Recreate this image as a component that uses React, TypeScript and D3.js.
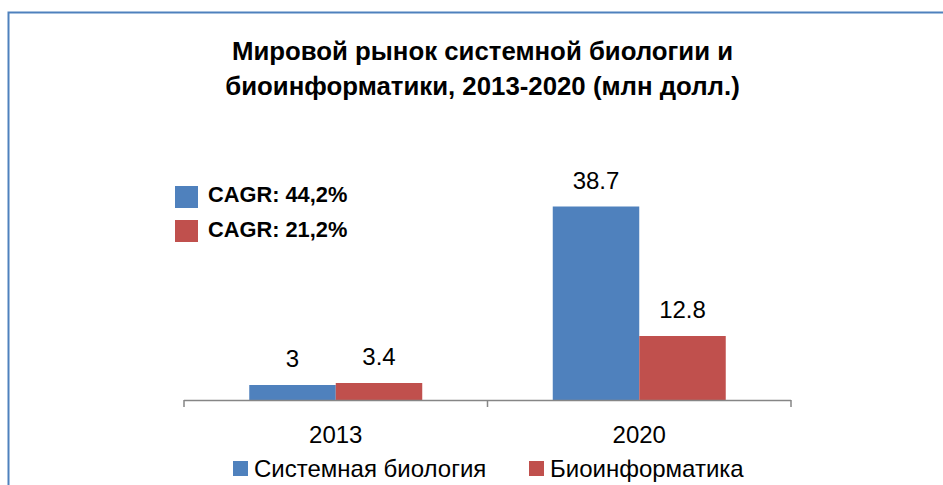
import React from 'react';
import * as d3 from 'd3';

const categories = ['2013', '2020'];
const seriesNames = ['Системная биология', 'Биоинформатика'];
const systemsBiology = [3, 38.7];
const bioinformatics = [3.4, 12.8];
const valueLabels = [['3', '38.7'], ['3.4', '12.8']];
const cagrLabels = ['CAGR: 44,2%', 'CAGR: 21,2%'];
const titleLines = ['Мировой рынок системной биологии и', 'биоинформатики, 2013-2020 (млн долл.)'];
const colors = ['#4F81BD', '#C0504D'];

const W = 943;
const H = 485;
const FONT = '"Liberation Sans", Arial, sans-serif';

export default function App() {
  const series = [systemsBiology, bioinformatics];
  const x0 = d3.scaleBand<string>().domain(categories).range([184, 791]).paddingInner(0.43).paddingOuter(0.215);
  const x1 = d3.scaleBand<number>().domain([0, 1]).range([0, x0.bandwidth()]);
  const y = d3.scaleLinear().domain([0, 45]).range([400, 175]);
  const axisY = y(0);
  const step = x0.step();
  const axisStart = 184;
  const tickXs = d3.range(categories.length + 1).map((i) => axisStart + i * step);

  return (
    <svg width={W} height={H} style={{ position: 'absolute', left: 0, top: 0, background: '#fff' }} fontFamily={FONT}>
      <rect x={0} y={0} width={W} height={H} fill="#fff" />
      <path d={`M8.5,${H} L8.5,12.5 L${W},12.5`} fill="none" stroke="#4F81BD" strokeWidth={2} />

      {titleLines.map((t, i) => (
        <text key={i} x={482.5} y={60 + i * 34.5} textAnchor="middle" fontWeight="bold" fontSize={25.8} fill="#000">
          {t}
        </text>
      ))}

      {cagrLabels.map((t, i) => (
        <g key={i}>
          <rect x={175} y={186 + i * 34} width={23} height={22} fill={colors[i]} />
          <text x={208} y={202 + i * 34.5} fontWeight="bold" fontSize={21.8} fill="#000">
            {t}
          </text>
        </g>
      ))}

      {series.map((vals, si) =>
        vals.map((v, ci) => {
          const bx = (x0(categories[ci]) as number) + (x1(si) as number);
          const by = y(v);
          return (
            <g key={`${si}-${ci}`}>
              <rect x={bx} y={by} width={x1.bandwidth()} height={axisY - by} fill={colors[si]} />
              <text x={bx + x1.bandwidth() / 2} y={by - 18} textAnchor="middle" fontSize={24} fill="#000">
                {valueLabels[si][ci]}
              </text>
            </g>
          );
        })
      )}

      <line x1={axisStart} x2={tickXs[tickXs.length - 1]} y1={axisY + 0.5} y2={axisY + 0.5} stroke="#868686" strokeWidth={1.5} />
      {tickXs.map((tx, i) => (
        <line key={i} x1={tx} x2={tx} y1={axisY} y2={axisY + 7} stroke="#868686" strokeWidth={1.5} />
      ))}
      {categories.map((c) => (
        <text key={c} x={(x0(c) as number) + x0.bandwidth() / 2} y={443} textAnchor="middle" fontSize={24} fill="#000">
          {c}
        </text>
      ))}

      {seriesNames.map((n, i) => {
        const lx = i === 0 ? 233 : 529;
        return (
          <g key={n}>
            <rect x={lx} y={461} width={15} height={15} fill={colors[i]} />
            <text x={lx + 21} y={477} fontSize={24} fill="#000">
              {n}
            </text>
          </g>
        );
      })}
    </svg>
  );
}
